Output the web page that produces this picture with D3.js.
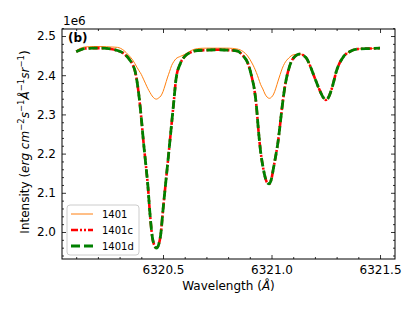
<!DOCTYPE html>
<html>
<head>
<meta charset="utf-8">
<script src="https://cdn.jsdelivr.net/npm/d3@7"></script>
<style>
  body { margin: 0; background: #fff; }
  text { font-family: "DejaVu Sans", sans-serif; }
</style>
</head>
<body>
<div id="chart"></div>
<script>
// wavelength grid (Angstrom) shared by the three profiles
var wavelength = [6320.10, 6320.14, 6320.18, 6320.22, 6320.26, 6320.29, 6320.32, 6320.34, 6320.36, 6320.37,
  6320.38, 6320.39, 6320.40, 6320.41, 6320.42, 6320.43, 6320.44, 6320.45, 6320.46, 6320.47,
  6320.48, 6320.49, 6320.50, 6320.51, 6320.52, 6320.53, 6320.54, 6320.55, 6320.56, 6320.58,
  6320.60, 6320.63, 6320.66, 6320.70, 6320.75, 6320.80, 6320.84, 6320.87, 6320.89, 6320.91,
  6320.92, 6320.93, 6320.94, 6320.95, 6320.96, 6320.97, 6320.98, 6320.99, 6321.00, 6321.01,
  6321.02, 6321.03, 6321.04, 6321.05, 6321.06, 6321.08, 6321.10, 6321.13, 6321.16, 6321.18,
  6321.20, 6321.22, 6321.24, 6321.25, 6321.26, 6321.28, 6321.30, 6321.33, 6321.36, 6321.40,
  6321.45, 6321.50];

// intensities in units of 1e6
var i1401 = [2.463, 2.472, 2.473, 2.473, 2.472, 2.471, 2.463, 2.452, 2.439, 2.430,
  2.420, 2.411, 2.402, 2.390, 2.378, 2.366, 2.356, 2.347, 2.341, 2.339,
  2.342, 2.347, 2.358, 2.375, 2.393, 2.409, 2.425, 2.435, 2.442, 2.448,
  2.453, 2.463, 2.468, 2.469, 2.469, 2.469, 2.467, 2.460, 2.449, 2.431,
  2.420, 2.407, 2.392, 2.376, 2.365, 2.352, 2.344, 2.341, 2.344, 2.352,
  2.367, 2.385, 2.402, 2.418, 2.430, 2.444, 2.452, 2.454, 2.444, 2.421,
  2.392, 2.364, 2.342, 2.337, 2.341, 2.370, 2.412, 2.446, 2.460, 2.467,
  2.468, 2.469];

var i1401c = [2.460, 2.468, 2.469, 2.469, 2.467, 2.463, 2.455, 2.444, 2.427, 2.413,
  2.385, 2.344, 2.291, 2.230, 2.176, 2.120, 2.046, 1.990, 1.966, 1.959,
  1.968, 1.996, 2.056, 2.112, 2.166, 2.222, 2.278, 2.334, 2.390, 2.430,
  2.448, 2.459, 2.463, 2.464, 2.465, 2.464, 2.462, 2.449, 2.432, 2.393,
  2.367, 2.324, 2.258, 2.204, 2.168, 2.141, 2.126, 2.123, 2.136, 2.166,
  2.196, 2.230, 2.276, 2.324, 2.365, 2.417, 2.443, 2.454, 2.444, 2.421,
  2.392, 2.364, 2.342, 2.337, 2.341, 2.370, 2.412, 2.446, 2.460, 2.467,
  2.468, 2.469];

var i1401d = [2.460, 2.468, 2.469, 2.469, 2.467, 2.463, 2.455, 2.444, 2.427, 2.413,
  2.385, 2.344, 2.291, 2.230, 2.176, 2.120, 2.046, 1.990, 1.966, 1.959,
  1.968, 1.996, 2.056, 2.112, 2.166, 2.222, 2.278, 2.334, 2.390, 2.430,
  2.448, 2.459, 2.463, 2.464, 2.465, 2.464, 2.462, 2.449, 2.432, 2.393,
  2.367, 2.324, 2.258, 2.204, 2.168, 2.141, 2.126, 2.123, 2.136, 2.166,
  2.196, 2.230, 2.276, 2.324, 2.365, 2.417, 2.443, 2.454, 2.444, 2.421,
  2.392, 2.364, 2.342, 2.337, 2.341, 2.370, 2.412, 2.446, 2.460, 2.467,
  2.468, 2.469];

var seriesNames = ["1401", "1401c", "1401d"];
var xTicks = [6320.5, 6321.0, 6321.5];
var xMinorTicks = [6320.1, 6320.2, 6320.3, 6320.4, 6320.6, 6320.7, 6320.8, 6320.9,
  6321.1, 6321.2, 6321.3, 6321.4];
var yTicks = [2.0, 2.1, 2.2, 2.3, 2.4, 2.5];
var yMinorTicks = [1.94, 1.96, 1.98, 2.02, 2.04, 2.06, 2.08, 2.12, 2.14, 2.16, 2.18,
  2.22, 2.24, 2.26, 2.28, 2.32, 2.34, 2.36, 2.38, 2.42, 2.44, 2.46, 2.48, 2.52];

// set the dimensions and margins of the graph
var margin = {top: 29, right: 21, bottom: 55, left: 62},
    width = 416 - margin.left - margin.right,
    height = 314 - margin.top - margin.bottom;

var svg = d3.select("#chart")
  .append("svg")
    .attr("width", 416)
    .attr("height", 314)
  .append("g")
    .attr("transform", "translate(" + margin.left + "," + margin.top + ")");

var x = d3.scaleLinear()
  .domain([6320.0346, 6321.569])
  .range([0, width]);

var y = d3.scaleLinear()
  .domain([1.9311, 2.5179])
  .range([height, 0]);

// ticks point inwards on all four sides
function styleAxis(g) {
  g.select(".domain").remove();
  g.selectAll(".tick line").attr("stroke", "#000").attr("stroke-width", 0.8);
  g.selectAll("text").attr("fill", "#000").style("font-size", "12px");
}

svg.append("g")
  .attr("transform", "translate(0," + height + ")")
  .call(d3.axisBottom(x).tickValues(xTicks).tickSize(-4).tickPadding(6).tickFormat(d3.format(".1f")))
  .call(styleAxis);
svg.append("g")
  .attr("transform", "translate(0," + height + ")")
  .call(d3.axisBottom(x).tickValues(xMinorTicks).tickSize(-2).tickFormat(""))
  .call(styleAxis);
svg.append("g")
  .call(d3.axisTop(x).tickValues(xTicks).tickSize(-4).tickFormat(""))
  .call(styleAxis);
svg.append("g")
  .call(d3.axisTop(x).tickValues(xMinorTicks).tickSize(-2).tickFormat(""))
  .call(styleAxis);

svg.append("g")
  .call(d3.axisLeft(y).tickValues(yTicks).tickSize(-4).tickPadding(6).tickFormat(d3.format(".1f")))
  .call(styleAxis);
svg.append("g")
  .call(d3.axisLeft(y).tickValues(yMinorTicks).tickSize(-2).tickFormat(""))
  .call(styleAxis);
svg.append("g")
  .attr("transform", "translate(" + width + ",0)")
  .call(d3.axisRight(y).tickValues(yTicks).tickSize(-4).tickFormat(""))
  .call(styleAxis);
svg.append("g")
  .attr("transform", "translate(" + width + ",0)")
  .call(d3.axisRight(y).tickValues(yMinorTicks).tickSize(-2).tickFormat(""))
  .call(styleAxis);

// lines
var line = d3.line()
  .x(function(d) { return x(d[0]); })
  .y(function(d) { return y(d[1]); })
  .curve(d3.curveMonotoneX);

var styles = [
  {color: "#ff7f0e", width: 1, dash: null},
  {color: "#ff0000", width: 2.6, dash: "7,2,2,2,2,2"},
  {color: "#008000", width: 2.8, dash: "9,4"}
];
var values = [i1401, i1401c, i1401d];

values.forEach(function(vals, k) {
  svg.append("path")
    .datum(wavelength.map(function(w, i) { return [w, vals[i]]; }))
    .attr("fill", "none")
    .attr("stroke", styles[k].color)
    .attr("stroke-width", styles[k].width)
    .attr("stroke-dasharray", styles[k].dash)
    .attr("d", line);
});

// frame
svg.append("rect")
  .attr("x", 0).attr("y", 0)
  .attr("width", width).attr("height", height)
  .attr("fill", "none")
  .attr("stroke", "#000")
  .attr("stroke-width", 1);

// legend
var legend = svg.append("g").attr("transform", "translate(5,176)");
legend.append("rect")
  .attr("width", 72).attr("height", 50)
  .attr("rx", 3)
  .attr("fill", "#fff").attr("fill-opacity", 0.8)
  .attr("stroke", "#cccccc");
seriesNames.forEach(function(name, k) {
  var ly = 9 + k * 16;
  legend.append("line")
    .attr("x1", 4).attr("x2", 26)
    .attr("y1", ly).attr("y2", ly)
    .attr("stroke", styles[k].color)
    .attr("stroke-width", styles[k].width)
    .attr("stroke-dasharray", styles[k].dash);
  legend.append("text")
    .attr("x", 35).attr("y", ly)
    .attr("dy", "0.36em")
    .style("font-size", "10px")
    .text(name);
});

// panel label, offset text
svg.append("text")
  .attr("x", 6).attr("y", 13)
  .style("font-size", "12px").style("font-weight", "bold")
  .text("(b)");
svg.append("text")
  .attr("x", 1).attr("y", -4)
  .style("font-size", "12px")
  .text("1e6");

// x label
var xl = svg.append("text")
  .attr("x", width / 2).attr("y", height + 31)
  .attr("text-anchor", "middle")
  .style("font-size", "12px");
xl.append("tspan").text("Wavelength (");
xl.append("tspan").style("font-style", "italic").text("Å");
xl.append("tspan").text(")");

// y label, superscripts lifted with dy and dropped back on the next piece
var yl = svg.append("text")
  .attr("transform", "translate(-33," + (height / 2 - 2) + ") rotate(-90)")
  .attr("text-anchor", "middle")
  .style("font-size", "12px");
yl.append("tspan").text("Intensity (");
var parts = [["erg cm", "−2"], ["s", "−1"], ["Å", "−1"], ["sr", "−1"]];
parts.forEach(function(p, i) {
  yl.append("tspan").attr("dy", i === 0 ? 0 : 5).style("font-style", "italic").text(p[0]);
  yl.append("tspan").attr("dy", -5).style("font-size", "8.5px").text(p[1]);
});
yl.append("tspan").attr("dy", 5).text(")");
</script>
</body>
</html>
